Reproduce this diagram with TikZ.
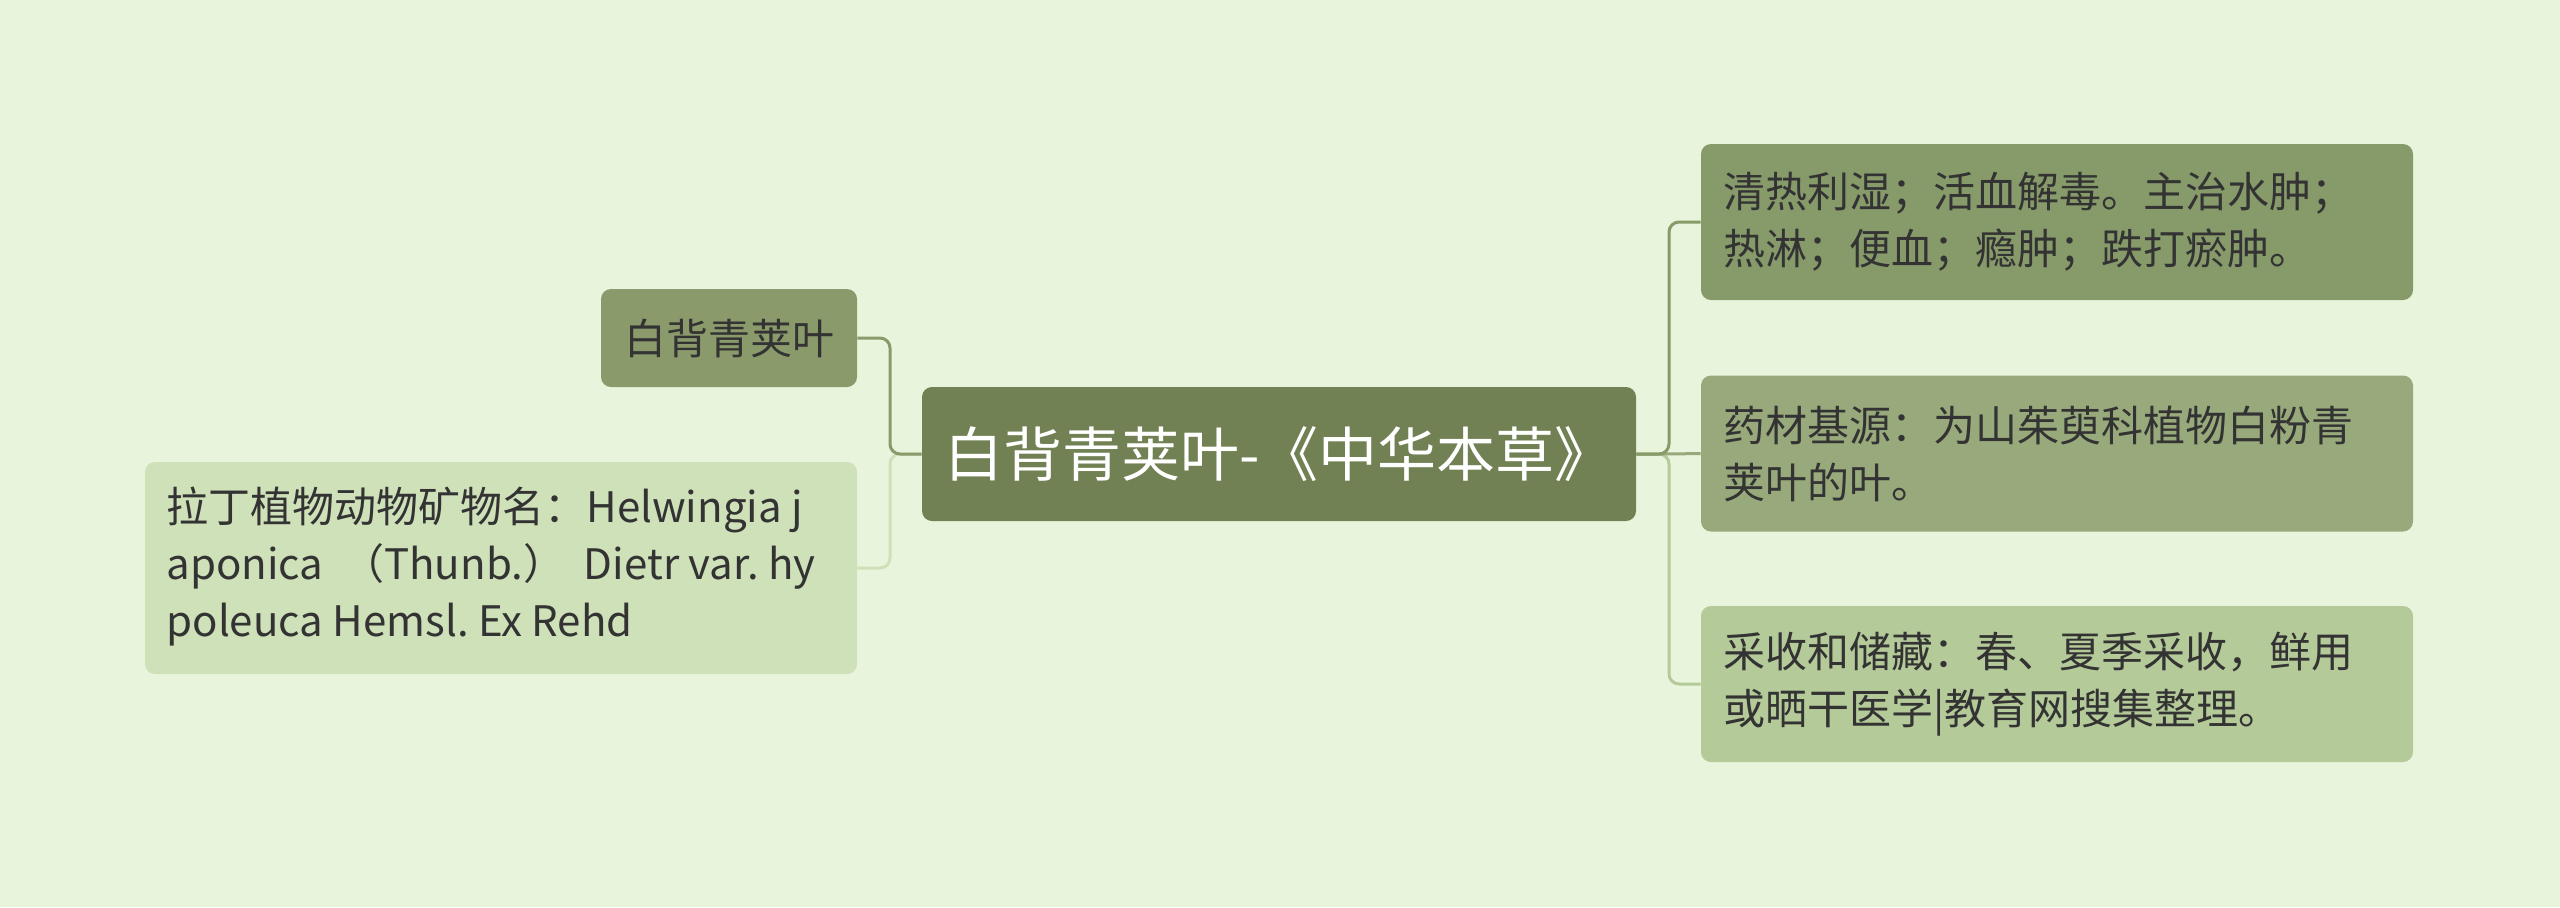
\documentclass[tikz,border=0pt]{standalone}
\usepackage{fontspec}
\setmainfont{Noto Sans CJK SC}
\frenchspacing
\definecolor{bgc}{HTML}{E8F5DC}
\definecolor{rootc}{HTML}{718154}
\definecolor{lvA}{HTML}{8A9A6B}
\definecolor{lvB}{HTML}{CFE1B9}
\definecolor{rvA}{HTML}{879A6A}
\definecolor{rvB}{HTML}{98AA7B}
\definecolor{rvC}{HTML}{B5CA99}
\definecolor{txt}{HTML}{333333}
\tikzset{
  box/.style={rectangle, rounded corners=5pt, inner sep=0pt, text=txt,
    font=\fontsize{21pt}{28.5pt}\selectfont},
  widebox/.style={box, minimum width=356pt, minimum height=78pt, text width=334pt, align=left},
  link/.style={line width=1.5pt, rounded corners=5pt}
}
\begin{document}
\begin{tikzpicture}[x=0.5pt,y=-0.5pt]
\fill[bgc] (0,0) rectangle (2560,907);
\useasboundingbox (0,0) rectangle (2560,907);
% nodes
\node[box, fill=rootc, text=white, minimum width=357pt, minimum height=67pt,
  font=\fontsize{29.5pt}{34pt}\selectfont] (root) at (1279,454) {白背青荚叶-《中华本草》};
\node[box, fill=lvA, minimum width=128pt, minimum height=49pt] (l1) at (729,338) {白背青荚叶};
\node[box, fill=lvB, minimum width=356pt, minimum height=106pt] (l2) at (501,568)
  {\begin{tabular}{@{}l@{}}拉丁植物动物矿物名：Helwingia j\\aponica\ \ （Thunb.）\ \ Dietr var. hy\\poleuca Hemsl. Ex Rehd\end{tabular}\hspace*{10pt}};
\node[widebox, fill=rvA] (r1) at (2057,222) {清热利湿；活血解毒。主治水肿；\\热淋；便血；瘾肿；跌打瘀肿。};
\node[widebox, fill=rvB] (r2) at (2057,453.5) {药材基源：为山茱萸科植物白粉青\\荚叶的叶。};
\node[widebox, fill=rvC] (r3) at (2057,684) {采收和储藏：春、夏季采收，鲜用\\或晒干医学|教育网搜集整理。};
% junctions
\coordinate (jr) at (1669,454);
\coordinate (jl) at (890,454);
% connectors
\draw[link, draw=rvC] (root.east) -- (jr) |- (r3.west);
\draw[link, draw=rvB] (root.east) -- (jr) -- (r2.west);
\draw[link, draw=rvA] (root.east) -- (jr) |- (r1.west);
\draw[link, draw=lvB] (root.west) -- (jl) |- (l2.east);
\draw[link, draw=lvA] (root.west) -- (jl) |- (l1.east);
\end{tikzpicture}
\end{document}
